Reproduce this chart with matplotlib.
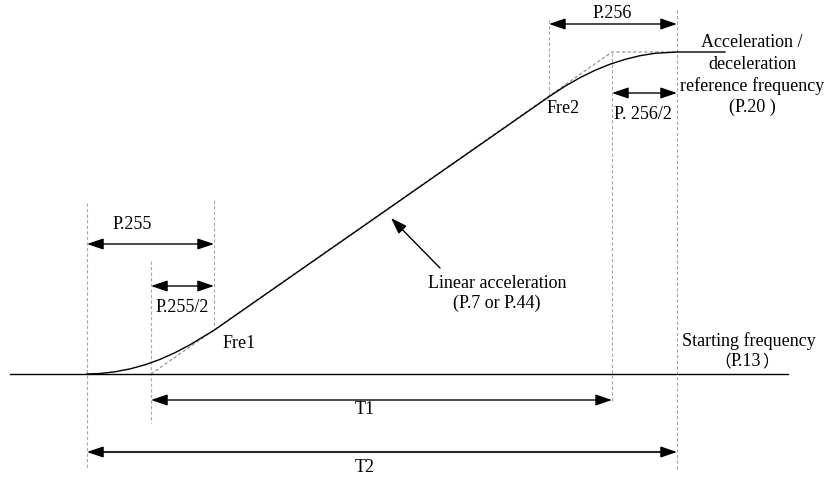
import matplotlib
matplotlib.use("Agg")
import matplotlib.pyplot as plt

# ---- data (diagram coordinates) ----
curve_x = [87, 100, 115, 130, 145, 160, 175, 190, 205, 214,
           549, 565, 580, 595, 610, 625, 640, 655, 677, 725]
curve_y = [374, 373.5, 371.8, 368.9, 364.8, 359.4, 352.7, 344.8, 335.7, 330.3,
           96.7, 86.2, 77.7, 70.3, 64.2, 59.4, 55.7, 53.3, 52, 52]
baseline_x = [10, 788]
baseline_y = [374, 374]
linear_x = [151, 612, 677]
linear_y = [374, 52, 52]

# vertical guide lines: x, y_top, y_bottom
guides_x = [87, 151, 214, 549, 612, 677]
guides_top = [203, 261, 200, 20, 53, 10]
guides_bottom = [469, 423, 326, 97, 402, 469]

# dimension arrows: label, x0, x1, y, label x, label y
dims = [
    ("P.255", 87, 214, 244, 132, 224),
    ("P.255/2", 151, 214, 286, 182, 307),
    ("P.256", 549, 677, 24, 612, 13),
    ("P. 256/2", 612, 677, 93, 643, 114),
    ("T1", 151, 612, 400, 365, 410),
]
t2 = ("T2", 87, 677, 452, 365, 467)

labels = [
    ("Fre1", 239, 343),
    ("Fre2", 563, 108),
    ("Linear acceleration", 497, 283),
    ("(P.7 or P.44)", 497, 303),
    ("Acceleration /", 752, 42),
    ("deceleration", 752, 64),
    ("reference frequency", 752, 86),
    ("(P.20 )", 752, 107),
    ("Starting frequency", 749, 341),
]
p13_open, p13_mid, p13_close = "（", "P.13", "）"

FONT = ["Liberation Serif", "Noto Sans CJK SC", "DejaVu Serif"]
CJK = ["Noto Sans CJK SC", "Liberation Serif"]
FS = 13

fig = plt.figure(figsize=(8.26, 4.79), dpi=100)
ax = fig.add_axes([0, 0, 1, 1])
ax.set_xlim(0, 826)
ax.set_ylim(479, 0)
ax.axis("off")

# guides
for gx, gt, gb in zip(guides_x, guides_top, guides_bottom):
    ax.plot([gx, gx], [gt, gb], color="#a8a8a8", lw=0.8, ls=(0, (3, 2)))

# dashed linear extension
ax.plot(linear_x, linear_y, color="#8a8a8a", lw=0.8, ls=(0, (3, 2)))

# baseline and curve
ax.plot(baseline_x, baseline_y, color="black", lw=1.0)
ax.plot(curve_x, curve_y, color="black", lw=1.0)

astyle = "<|-|>,head_length=1.0,head_width=0.34"
for lab, x0, x1, y, lx, ly in dims:
    ax.annotate("", xy=(x1, y), xytext=(x0, y),
                arrowprops=dict(arrowstyle=astyle, color="black", lw=1.0,
                                shrinkA=0, shrinkB=0, mutation_scale=10))
    ax.text(lx, ly, lab, ha="center", va="center", fontsize=FS, family=FONT)

lab, x0, x1, y, lx, ly = t2
ax.annotate("", xy=(x1, y), xytext=(x0, y),
            arrowprops=dict(arrowstyle=astyle, color="black", lw=1.0,
                            shrinkA=0, shrinkB=0, mutation_scale=10))
ax.plot([x0 + 12, x1 - 12], [y, y], color="#808080", lw=1.6)
ax.text(lx, ly, lab, ha="center", va="center", fontsize=FS, family=FONT)

# pointer to linear segment
ax.annotate("", xy=(391, 218), xytext=(440, 268),
            arrowprops=dict(arrowstyle="-|>,head_length=1.0,head_width=0.34",
                            color="black", lw=1.0, shrinkA=0, shrinkB=0,
                            mutation_scale=10))

for t, x, y in labels:
    ax.text(x, y, t, ha="center", va="center", fontsize=FS, family=FONT)

# "（P.13）" with full-width parentheses
ax.text(746, 362, p13_mid, ha="center", va="center", fontsize=FS, family=FONT)
ax.text(731, 362, p13_open, ha="right", va="center", fontsize=FS - 1, family=CJK)
ax.text(762, 362, p13_close, ha="left", va="center", fontsize=FS - 1, family=CJK)

fig.savefig("out.png", dpi=100)
